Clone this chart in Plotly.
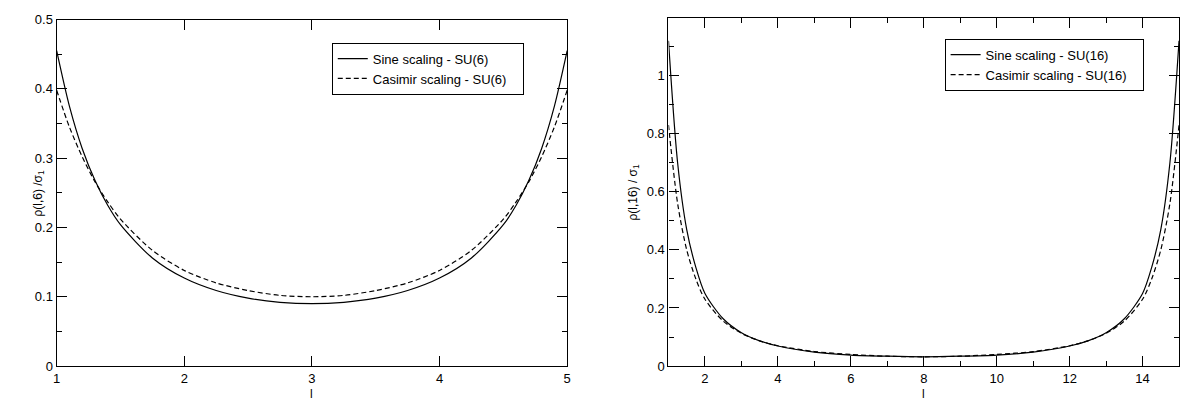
import plotly.graph_objects as go

# ---- data ----
l6 = [1.0, 1.1, 1.2, 1.3, 1.4, 1.5, 1.75, 2.0, 2.25, 2.5, 2.75, 3.0,
      3.25, 3.5, 3.75, 4.0, 4.25, 4.5, 4.6, 4.7, 4.8, 4.9, 5.0]
sine6 = [0.455, 0.375, 0.314, 0.268, 0.232, 0.204, 0.156, 0.127, 0.109, 0.098, 0.092, 0.09,
         0.092, 0.098, 0.109, 0.127, 0.156, 0.204, 0.232, 0.268, 0.314, 0.375, 0.455]
cas6 = [0.398, 0.345, 0.302, 0.266, 0.237, 0.212, 0.167, 0.138, 0.12, 0.109, 0.102, 0.1,
        0.102, 0.109, 0.12, 0.138, 0.167, 0.212, 0.237, 0.266, 0.302, 0.345, 0.398]

l16 = [1.0, 1.25, 1.5, 1.75, 2.0, 2.5, 3.0, 3.5, 4.0, 5.0, 6.0, 7.0, 8.0,
       9.0, 10.0, 11.0, 12.0, 12.5, 13.0, 13.5, 14.0, 14.25, 14.5, 14.75, 15.0]
sine16 = [1.12, 0.70, 0.47, 0.34, 0.25, 0.163, 0.115, 0.087, 0.069, 0.048, 0.038, 0.034, 0.032,
          0.034, 0.038, 0.048, 0.069, 0.087, 0.115, 0.163, 0.25, 0.34, 0.47, 0.70, 1.12]
cas16 = [0.83, 0.56, 0.40, 0.30, 0.23, 0.155, 0.113, 0.087, 0.07, 0.05, 0.04, 0.034, 0.032,
         0.034, 0.04, 0.05, 0.07, 0.087, 0.113, 0.155, 0.23, 0.30, 0.40, 0.56, 0.83]

W, H = 1187, 402
FONT = "Liberation Sans, Arial, sans-serif"
PAD = "\u00a0\u00a0\u00a0"


def px(x):
    return x / W


def py(y):
    return 1 - y / H


fig = go.Figure()
line_solid = dict(color="black", width=1.2, shape="spline", smoothing=0.8)
line_dash = dict(color="black", width=1.2, dash="5px,3px", shape="spline", smoothing=0.8)

fig.add_trace(go.Scatter(x=l6, y=sine6, mode="lines", line=line_solid,
                         name="Sine scaling - SU(6)" + PAD, xaxis="x", yaxis="y", legend="legend"))
fig.add_trace(go.Scatter(x=l6, y=cas6, mode="lines", line=line_dash,
                         name="Casimir scaling - SU(6)" + PAD, xaxis="x", yaxis="y", legend="legend"))
fig.add_trace(go.Scatter(x=l16, y=sine16, mode="lines", line=line_solid,
                         name="Sine scaling - SU(16)" + PAD, xaxis="x2", yaxis="y2", legend="legend2"))
fig.add_trace(go.Scatter(x=l16, y=cas16, mode="lines", line=line_dash,
                         name="Casimir scaling - SU(16)" + PAD, xaxis="x2", yaxis="y2", legend="legend2"))

common = dict(showline=True, linecolor="black", linewidth=1.3, mirror="ticks",
              ticks="inside", ticklen=10, tickwidth=1.1, tickcolor="black",
              showgrid=False, zeroline=False, ticklabeloverflow="allow",
              tickfont=dict(family=FONT, size=13, color="black"))

fig.update_layout(
    width=W, height=H,
    margin=dict(l=0, r=0, t=0, b=0),
    paper_bgcolor="white", plot_bgcolor="white",
    font=dict(family=FONT, color="black"),
    xaxis=dict(domain=[px(53), px(567)], range=[1, 5], dtick=1, tick0=0,
               anchor="y", **common),
    yaxis=dict(domain=[py(373), py(13)], range=[0, 0.5], dtick=0.1, tick0=0,
               anchor="x",
               minor=dict(ticks="inside", ticklen=5, dtick=0.05, tickcolor="black"),
               **common),
    xaxis2=dict(domain=[px(669), px(1183)], range=[1, 15], dtick=2, tick0=0,
                anchor="y2",
                minor=dict(ticks="inside", ticklen=5, dtick=1, tickcolor="black"),
                **common),
    yaxis2=dict(domain=[py(373), py(11)], range=[0, 1.2],
                tickmode="array", tickvals=[0, 0.2, 0.4, 0.6, 0.8, 1.0],
                ticktext=["0", "0.2", "0.4", "0.6", "0.8", "1"],
                anchor="x2",
                minor=dict(ticks="inside", ticklen=5, tickcolor="black",
                           tickvals=[0.1, 0.3, 0.5, 0.7, 0.9, 1.1]),
                **common),
    legend=dict(x=px(330), y=py(37), xanchor="left", yanchor="top",
                bgcolor="white", bordercolor="black", borderwidth=1,
                font=dict(family=FONT, size=13, color="black"),
                itemwidth=30, tracegroupgap=0),
    legend2=dict(x=px(947), y=py(33), xanchor="left", yanchor="top",
                 bgcolor="white", bordercolor="black", borderwidth=1,
                 font=dict(family=FONT, size=13, color="black"),
                 itemwidth=30, tracegroupgap=0),
    showlegend=True,
    annotations=[
        dict(text="ρ(l,6) /σ<sub>1</sub>", x=px(35), y=py(193), xref="paper", yref="paper",
             textangle=-90, showarrow=False, xanchor="center", yanchor="middle",
             font=dict(family=FONT, size=12, color="black")),
        dict(text="ρ(l,16) / σ<sub>1</sub>", x=px(634), y=py(192), xref="paper", yref="paper",
             textangle=-90, showarrow=False, xanchor="center", yanchor="middle",
             font=dict(family=FONT, size=12, color="black")),
        dict(text="l", x=3, y=py(393), xref="x", yref="paper",
             showarrow=False, xanchor="center", yanchor="top",
             font=dict(family=FONT, size=12, color="black")),
        dict(text="l", x=8, y=py(393), xref="x2", yref="paper",
             showarrow=False, xanchor="center", yanchor="top",
             font=dict(family=FONT, size=12, color="black")),
    ],
)

fig.write_html(
    "out.html",
    config={"displayModeBar": False},
    post_script="document.body.style.margin='0';document.body.style.overflow='hidden';",
)
